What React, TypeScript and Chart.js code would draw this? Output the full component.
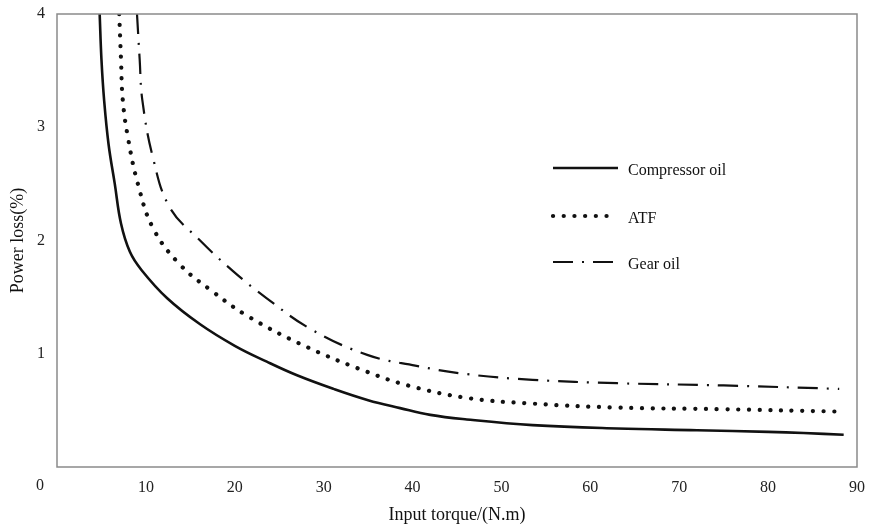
import React, { useEffect, useRef } from "react";
import { Chart, registerables } from "chart.js";

Chart.register(...registerables);

const seriesNames = ["Compressor oil", "ATF", "Gear oil"];

const compressorX = [4.8, 5.0, 5.3, 5.8, 6.5, 7.2, 8.2, 9.5, 12.4, 16.1, 20, 23.6, 27, 31.1, 35, 38.6, 42, 46.1, 53.5, 63, 72, 80, 84, 88.5];
const compressorY = [4.0, 3.6, 3.24, 2.85, 2.5, 2.15, 1.9, 1.74, 1.49, 1.26, 1.07, 0.93, 0.81, 0.69, 0.59, 0.52, 0.46, 0.42, 0.37, 0.34, 0.325, 0.31, 0.3, 0.285];

const atfX = [7.0, 7.2, 7.4, 8.0, 9.1, 10.8, 13.8, 17.5, 21.5, 28.1, 34.9, 39.5, 46.1, 53.5, 63, 75, 87.6];
const atfY = [4.0, 3.6, 3.24, 2.9, 2.5, 2.11, 1.79, 1.55, 1.33, 1.06, 0.84, 0.72, 0.61, 0.56, 0.525, 0.51, 0.49];

const gearX = [9.0, 9.3, 9.6, 10.8, 12.7, 16.1, 19.8, 23.6, 28.5, 34.9, 40.3, 46.1, 53.5, 63, 75, 88];
const gearY = [4.0, 3.6, 3.24, 2.73, 2.29, 2.0, 1.73, 1.49, 1.22, 0.99, 0.895, 0.82, 0.77, 0.74, 0.72, 0.69];

const xTicks = [0, 10, 20, 30, 40, 50, 60, 70, 80, 90];
const yTicks = [0, 1, 2, 3, 4];

const FONT = "'Liberation Serif', 'Times New Roman', serif";

const pts = (xs: number[], ys: number[]) => xs.map((x, i) => ({ x, y: ys[i] }));

const frameAndLegend = {
  id: "frameAndLegend",
  afterDraw(chart: any) {
    const { ctx, chartArea } = chart;
    ctx.save();
    ctx.strokeStyle = "#8a8a8a";
    ctx.lineWidth = 1.5;
    ctx.strokeRect(chartArea.left, chartArea.top, chartArea.right - chartArea.left, chartArea.bottom - chartArea.top);

    ctx.fillStyle = "#222";
    ctx.font = `16px ${FONT}`;
    ctx.textAlign = "center";
    ctx.textBaseline = "middle";
    ctx.fillText("0", 40, 486);

    const rows = [168, 216, 262];
    const x0 = 553;
    const x1 = 618;
    chart.data.datasets.forEach((ds: any, i: number) => {
      const y = rows[i];
      ctx.save();
      ctx.strokeStyle = ds.borderColor;
      ctx.lineWidth = ds.borderWidth;
      ctx.lineCap = ds.borderCapStyle || "butt";
      ctx.setLineDash(ds.borderDash || []);
      ctx.beginPath();
      ctx.moveTo(x0, y);
      ctx.lineTo(i === 1 ? x1 - 4 : x1, y);
      ctx.stroke();
      ctx.restore();
      ctx.fillStyle = "#111";
      ctx.font = `16px ${FONT}`;
      ctx.textAlign = "left";
      ctx.textBaseline = "middle";
      ctx.fillText(ds.label, 628, y + 3);
    });
    ctx.restore();
  },
};

export default function App() {
  const ref = useRef<HTMLCanvasElement | null>(null);
  useEffect(() => {
    if (!ref.current) return;
    const chart = new Chart(ref.current, {
      type: "line",
      data: {
        datasets: [
          {
            label: seriesNames[0],
            data: pts(compressorX, compressorY),
            borderColor: "#111",
            borderWidth: 2.6,
            pointRadius: 0,
            tension: 0.4,
          },
          {
            label: seriesNames[1],
            data: pts(atfX, atfY),
            borderColor: "#111",
            borderWidth: 4.2,
            borderDash: [0.1, 10.6],
            borderCapStyle: "round",
            pointRadius: 0,
            tension: 0.4,
          },
          {
            label: seriesNames[2],
            data: pts(gearX, gearY),
            borderColor: "#111",
            borderWidth: 2.2,
            borderDash: [20, 9, 2, 9],
            pointRadius: 0,
            tension: 0.4,
          },
        ],
      } as any,
      options: {
        animation: false,
        responsive: false,
        maintainAspectRatio: false,
        layout: { padding: { top: 14, right: 23, left: 0, bottom: 0 } },
        plugins: {
          legend: { display: false },
          tooltip: { enabled: false },
        },
        scales: {
          x: {
            type: "linear",
            min: 0,
            max: 90,
            afterBuildTicks: (scale: any) => {
              scale.ticks = xTicks.map((v) => ({ value: v }));
            },
            afterFit: (scale: any) => {
              scale.height = 63;
              scale.paddingLeft = 0;
              scale.paddingRight = 0;
            },
            grid: { display: false, drawTicks: false },
            border: { display: false },
            ticks: {
              padding: 11,
              color: "#222",
              font: { family: FONT, size: 16 },
              callback: (v: any) => (v === 0 ? "" : String(v)),
            },
            title: {
              display: true,
              text: "Input torque/(N.m)",
              color: "#111",
              font: { family: FONT, size: 18 },
              padding: { top: 0, bottom: 4 },
            },
          },
          y: {
            type: "linear",
            min: 0,
            max: 4,
            afterBuildTicks: (scale: any) => {
              scale.ticks = yTicks.map((v) => ({ value: v }));
            },
            afterFit: (scale: any) => {
              scale.width = 57;
              scale.paddingTop = 0;
              scale.paddingBottom = 0;
            },
            grid: { display: false, drawTicks: false },
            border: { display: false },
            ticks: {
              padding: 12,
              color: "#222",
              font: { family: FONT, size: 16 },
              callback: (v: any) => (v === 0 ? "" : String(v)),
            },
            title: {
              display: true,
              text: "Power loss(%)",
              color: "#111",
              font: { family: FONT, size: 18 },
              padding: { top: 7, bottom: 0 },
            },
          },
        },
      } as any,
      plugins: [frameAndLegend],
    });
    return () => chart.destroy();
  }, []);
  return (
    <div style={{ position: "absolute", left: 0, top: 0, width: 880, height: 530, background: "#fff" }}>
      <canvas ref={ref} width={880} height={530} style={{ width: 880, height: 530 }} />
    </div>
  );
}
